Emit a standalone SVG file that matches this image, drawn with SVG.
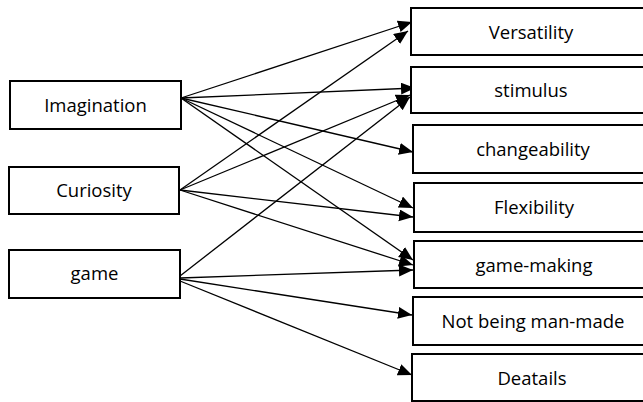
<svg xmlns="http://www.w3.org/2000/svg" width="643" height="402" viewBox="0 0 643 402">
<style>
.box{fill:#fff;stroke:#000;stroke-width:2}
.lbl{font-family:"Open Sans","Noto Sans",sans-serif;font-size:18.5px;fill:#000;text-anchor:middle}
.edge{stroke:#000;stroke-width:1.3;fill:none;marker-end:url(#ah)}
</style>
<defs>
<marker id="ah" markerUnits="userSpaceOnUse" markerWidth="16" markerHeight="14" refX="14" refY="6" orient="auto">
<path d="M0,0 L14,6 L0,12 Z" fill="#000"/>
</marker>
</defs>
<rect width="643" height="402" fill="#fff"/>
<g id="edges">
<line class="edge" x1="181" y1="98" x2="412" y2="22"/>
<line class="edge" x1="181" y1="98" x2="415" y2="88"/>
<line class="edge" x1="181" y1="98" x2="413" y2="152"/>
<line class="edge" x1="181" y1="98" x2="413" y2="208"/>
<line class="edge" x1="181" y1="98" x2="413" y2="260"/>
<line class="edge" x1="180" y1="190" x2="408" y2="31"/>
<line class="edge" x1="180" y1="190" x2="410" y2="95"/>
<line class="edge" x1="180" y1="190" x2="413" y2="217"/>
<line class="edge" x1="180" y1="190" x2="413" y2="265"/>
<line class="edge" x1="180" y1="276" x2="410" y2="97"/>
<line class="edge" x1="180" y1="278" x2="413" y2="270"/>
<line class="edge" x1="180" y1="279" x2="412" y2="315"/>
<line class="edge" x1="180" y1="281" x2="412" y2="375"/>
</g>
<g id="imagination"><rect class="box" x="10" y="81" width="171" height="48"/><text class="lbl" x="95.5" y="111.5">Imagination</text></g>
<g id="curiosity"><rect class="box" x="9" y="167" width="170" height="47"/><text class="lbl" x="94" y="197">Curiosity</text></g>
<g id="game"><rect class="box" x="9" y="250" width="171" height="48"/><text class="lbl" x="94.5" y="280">game</text></g>
<g id="versatility"><rect class="box" x="411" y="8" width="240" height="47"/><text class="lbl" x="531" y="38.5">Versatility</text></g>
<g id="stimulus"><rect class="box" x="411" y="67" width="240" height="46"/><text class="lbl" x="531" y="96.5">stimulus</text></g>
<g id="changeability"><rect class="box" x="413" y="125" width="240" height="48"/><text class="lbl" x="533" y="155.5">changeability</text></g>
<g id="flexibility"><rect class="box" x="414" y="183" width="240" height="49"/><text class="lbl" x="534" y="214">Flexibility</text></g>
<g id="game-making"><rect class="box" x="414" y="241" width="240" height="47"/><text class="lbl" x="534" y="271.5">game-making</text></g>
<g id="not-man-made"><rect class="box" x="413" y="297" width="240" height="48"/><text class="lbl" x="533" y="327.5">Not being man-made</text></g>
<g id="deatails"><rect class="box" x="412" y="354" width="240" height="47"/><text class="lbl" x="532" y="384.5">Deatails</text></g>
</svg>
